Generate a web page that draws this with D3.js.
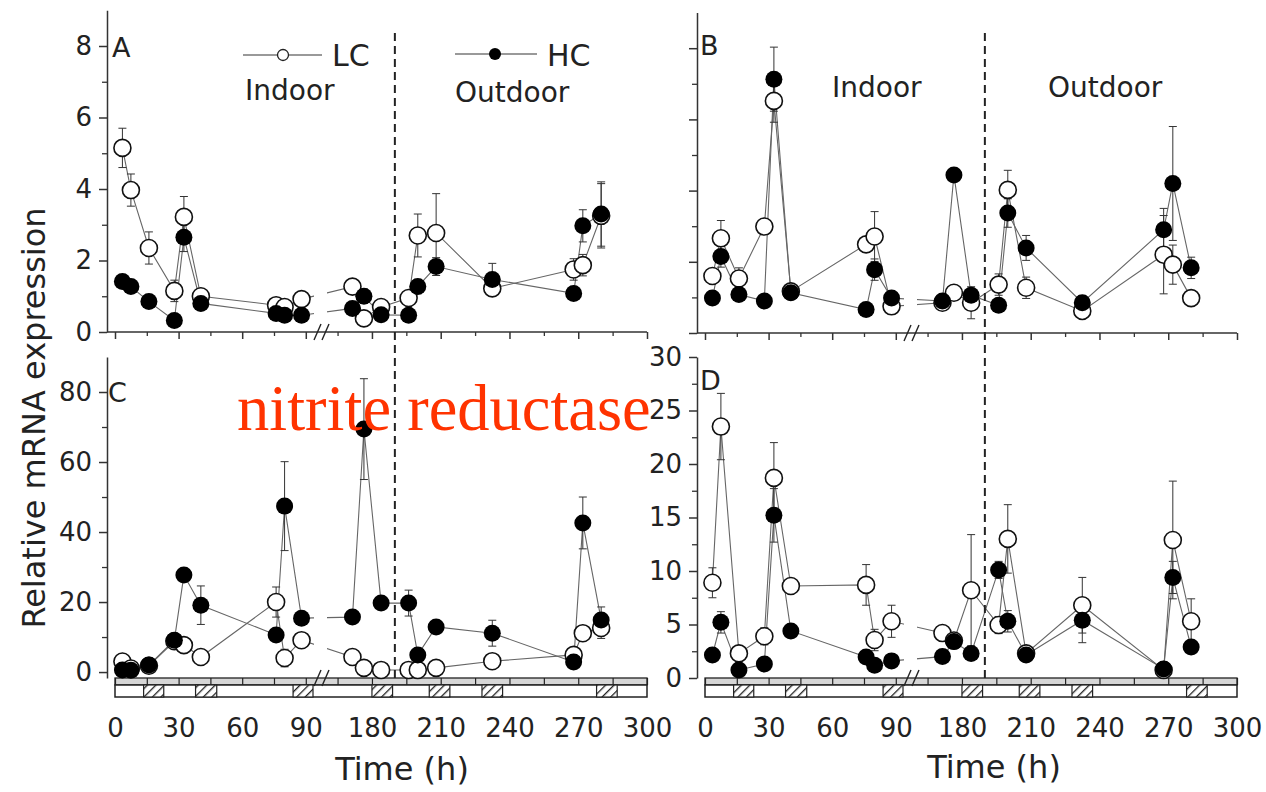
<!DOCTYPE html>
<html>
<head>
<meta charset="utf-8">
<script src="https://cdn.jsdelivr.net/npm/d3@7"></script>
<style>
  body { margin: 0; background: #fff; }
  svg { display: block; font-family: "DejaVu Sans", sans-serif; }
</style>
</head>
<body>
<svg id="chart" width="1266" height="792"></svg>
<script>
// sampling times (h), shared by all panels
const times = [3.5, 7.5, 16, 28, 32.5, 40.5, 76, 80, 88, 171.5, 176.5, 184, 196, 200, 208, 232.5, 268, 272, 280];

// panel A
const lcA = [5.15, 3.97, 2.35, 1.15, 3.22, 1.0, 0.75, 0.7, 0.92, 1.27, 0.38, 0.7, 0.95, 2.7, 2.77, 1.22, 1.75, 1.87, 3.25];
const lcAErr = [0.55, 0.45, 0.45, 0.3, 0.57, 0.1, 0.1, 0.1, 0.1, 0.1, 0.1, 0.1, 0.1, 0.6, 1.1, 0.2, 0.3, 0.3, 0.9];
const hcA = [1.41, 1.27, 0.85, 0.32, 2.65, 0.8, 0.52, 0.47, 0.47, 0.66, 1.0, 0.48, 0.47, 1.27, 1.83, 1.47, 1.08, 2.97, 3.3];
const hcAErr = [0.1, 0.1, 0.1, 0.05, 0.4, 0.1, 0.05, 0.05, 0.05, 0.1, 0.2, 0.1, 0.05, 0.2, 0.25, 0.45, 0.1, 0.45, 0.9];

// panel B
const lcB = [1.6, 2.66, 1.53, 2.99, 6.52, 1.17, 2.49, 2.71, 0.75, 0.85, 1.13, 0.85, 1.36, 4.02, 1.27, 0.62, 2.2, 1.92, 0.98];
const lcBErr = [0.2, 0.5, 0.3, 0.2, 0.6, 0.1, 0.2, 0.7, 0.1, 0.1, 0.1, 0.45, 0.3, 0.55, 0.3, 0.1, 1.1, 0.55, 0.2];
const hcB = [0.98, 2.15, 1.08, 0.9, 7.13, 1.13, 0.66, 1.78, 0.98, 0.9, 4.44, 1.06, 0.78, 3.37, 2.39, 0.85, 2.9, 4.2, 1.83];
const hcBErr = [0.1, 0.3, 0.1, 0.1, 0.9, 0.1, 0.1, 0.3, 0.1, 0.1, 0.1, 0.1, 0.1, 0.4, 0.35, 0.2, 0.6, 1.6, 0.3];

// panel C
const lcC = [3.0, 1.0, 1.8, 8.8, 7.7, 4.3, 20.0, 4.0, 9.1, 4.3, 1.2, 0.6, 0.6, 0.6, 1.2, 3.1, 4.9, 11.1, 12.6];
const lcCErr = [0.5, 0.3, 0.3, 1, 1.5, 0.5, 4.3, 2.5, 1, 2, 1, 1, 1, 1, 1, 1.5, 1.5, 2, 3];
const hcC = [0.6, 0.5, 2.0, 9.1, 27.7, 19.1, 10.6, 47.4, 15.4, 15.7, 69.4, 19.7, 19.7, 4.9, 12.9, 11.1, 2.9, 42.6, 14.9];
const hcCErr = [0.5, 0.5, 0.5, 1, 1, 5.5, 1, 12.7, 1, 1, 14.4, 1, 3.7, 1, 1, 3.7, 1, 7.4, 3.7];

// panel D
const lcD = [8.9, 23.5, 2.3, 3.9, 18.7, 8.6, 8.7, 3.55, 5.3, 4.2, 3.5, 8.2, 4.95, 13.0, 2.3, 6.8, 0.75, 12.9, 5.3];
const lcDErr = [1.4, 3.1, 0.5, 0.8, 3.3, 0.5, 1.9, 1.0, 1.5, 0.5, 0.5, 5.2, 0.8, 3.2, 0.5, 2.6, 0.3, 5.5, 2.1];
const hcD = [2.15, 5.2, 0.75, 1.3, 15.2, 4.4, 1.96, 1.2, 1.6, 2.0, 3.4, 2.3, 10.1, 5.3, 2.15, 5.4, 0.85, 9.4, 2.9];
const hcDErr = [0.3, 1.0, 0.2, 0.3, 2.5, 0.3, 0.3, 0.3, 0.3, 0.3, 0.3, 0.3, 0.8, 1.0, 0.5, 2.1, 0.3, 1.5, 0.5];

// axis ticks
const xTicks = [0, 30, 60, 90, 180, 210, 240, 270, 300];
const xMinor = [15, 45, 75, 165, 195, 225, 255, 285];
// dark periods (hatched cells in the light bar)
const darkPeriods = [[13.5, 23], [38, 48], [84, 93.4], [180, 189], [205, 214], [228, 237], [278, 287]];
const indoorEnd = 190; // indoor -> outdoor transfer
const breakLeft = 93.4;
const breakRight = 161.7;

const svg = d3.select('#chart');
const defs = svg.append('defs');

const hatch = defs.append('pattern')
  .attr('id', 'hatch')
  .attr('width', 6)
  .attr('height', 6)
  .attr('patternUnits', 'userSpaceOnUse')
  .attr('patternTransform', 'rotate(45)');
hatch.append('rect').attr('width', 6).attr('height', 6).attr('fill', '#fff');
hatch.append('line').attr('x1', 0).attr('y1', 0).attr('x2', 0).attr('y2', 6)
  .attr('stroke', '#222').attr('stroke-width', 2.6);

const panels = [
  { id: 'A', ax: 107, axisY: 332, yDomain: [0, 9], yRange: [332, 10.25], yTicks: [0, 2, 4, 6, 8], yMinor: [1, 3, 5, 7], labels: true, bars: false, lc: lcA, lcErr: lcAErr, hc: hcA, hcErr: hcAErr, letter: [112, 57] },
  { id: 'B', ax: 697, axisY: 333, yDomain: [0, 9], yRange: [333, 12.6], yTicks: [0, 2, 4, 6, 8], yMinor: [1, 3, 5, 7], labels: false, bars: false, lc: lcB, lcErr: lcBErr, hc: hcB, hcErr: hcBErr, letter: [700, 55] },
  { id: 'C', ax: 107, axisY: 678, yDomain: [-1.7, 90], yRange: [678, 357], yTicks: [0, 20, 40, 60, 80], yMinor: [10, 30, 50, 70], labels: true, bars: true, lc: lcC, lcErr: lcCErr, hc: hcC, hcErr: hcCErr, letter: [108, 402] },
  { id: 'D', ax: 697, axisY: 678, yDomain: [0, 30], yRange: [678, 357], yTicks: [0, 5, 10, 15, 20, 25, 30], yMinor: [2.5, 7.5, 12.5, 17.5, 22.5, 27.5], labels: true, bars: true, lc: lcD, lcErr: lcDErr, hc: hcD, hcErr: hcDErr, letter: [700, 390] },
];

const ink = '#222';

function errorBars(g, vals, errs, x, y, y0) {
  const data = d3.zip(times, vals, errs).filter((d) => d[2] > 0);
  const eb = g.append('g').attr('stroke', '#333').attr('stroke-width', 1);
  const items = eb.selectAll('g').data(data).join('g');
  items.append('line')
    .attr('x1', (d) => x(d[0])).attr('x2', (d) => x(d[0]))
    .attr('y1', (d) => y(d[1] + d[2]))
    .attr('y2', (d) => Math.min(y(Math.max(d[1] - d[2], y0)), y(y0)));
  items.append('line')
    .attr('x1', (d) => x(d[0]) - 4).attr('x2', (d) => x(d[0]) + 4)
    .attr('y1', (d) => y(d[1] + d[2])).attr('y2', (d) => y(d[1] + d[2]));
  items.append('line')
    .attr('x1', (d) => x(d[0]) - 4).attr('x2', (d) => x(d[0]) + 4)
    .attr('y1', (d) => y(Math.max(d[1] - d[2], y0))).attr('y2', (d) => y(Math.max(d[1] - d[2], y0)));
}

function drawPanel(p) {
  const g = svg.append('g');
  const x = d3.scaleLinear()
    .domain([0, breakLeft, breakRight, 300])
    .range([p.ax + 8, p.ax + 206, p.ax + 223, p.ax + 540]);
  const y = d3.scaleLinear().domain(p.yDomain).range(p.yRange);

  // y axis
  const ya = g.append('g')
    .attr('transform', `translate(${p.ax},0)`)
    .call(d3.axisLeft(y).tickValues(p.yTicks).tickSize(8).tickSizeOuter(0).tickPadding(7)
      .tickFormat(p.labels ? d3.format('d') : ''));
  ya.attr('font-family', null).attr('font-size', 26);
  ya.selectAll('text').attr('fill', ink);
  ya.selectAll('line, path').attr('stroke', '#333').attr('stroke-width', 1.5);
  const ym = g.append('g')
    .attr('transform', `translate(${p.ax},0)`)
    .call(d3.axisLeft(y).tickValues(p.yMinor).tickSize(5).tickFormat(''));
  ym.select('.domain').remove();
  ym.selectAll('line').attr('stroke', '#333').attr('stroke-width', 1.3);

  if (!p.bars) {
    g.append('line')
      .attr('x1', p.ax).attr('x2', x(300))
      .attr('y1', p.axisY).attr('y2', p.axisY)
      .attr('stroke', '#333').attr('stroke-width', 1.5);
    const xa = g.append('g')
      .attr('transform', `translate(0,${p.axisY})`)
      .call(d3.axisBottom(x).tickValues(xTicks).tickSize(7).tickFormat(''));
    xa.select('.domain').remove();
    xa.selectAll('line').attr('stroke', '#333').attr('stroke-width', 1.5);
    const xm = g.append('g')
      .attr('transform', `translate(0,${p.axisY})`)
      .call(d3.axisBottom(x).tickValues(xMinor).tickSize(4).tickFormat(''));
    xm.select('.domain').remove();
    xm.selectAll('line').attr('stroke', '#333').attr('stroke-width', 1.3);
  } else {
    const top = p.axisY;
    g.append('rect')
      .attr('x', x(0)).attr('y', top)
      .attr('width', x(300) - x(0)).attr('height', 7)
      .attr('fill', '#d6d6d6').attr('stroke', ink).attr('stroke-width', 1.3);
    g.append('rect')
      .attr('x', x(0)).attr('y', top + 7)
      .attr('width', x(300) - x(0)).attr('height', 12)
      .attr('fill', '#fff').attr('stroke', ink).attr('stroke-width', 1.5);
    g.append('g').selectAll('rect')
      .data(darkPeriods)
      .join('rect')
      .attr('x', (d) => x(d[0])).attr('y', top + 7)
      .attr('width', (d) => x(d[1]) - x(d[0])).attr('height', 12)
      .attr('fill', 'url(#hatch)').attr('stroke', ink).attr('stroke-width', 1.2);
    const xa = g.append('g')
      .attr('transform', `translate(0,${top})`)
      .call(d3.axisBottom(x).tickValues(xTicks.concat(xMinor)).tickSize(7).tickFormat(''));
    xa.select('.domain').remove();
    xa.selectAll('line').attr('stroke', ink).attr('stroke-width', 1.2);
    const xl = g.append('g')
      .attr('transform', `translate(0,${top + 19})`)
      .call(d3.axisBottom(x).tickValues(xTicks).tickSize(0).tickPadding(22).tickFormat(d3.format('d')));
    xl.select('.domain').remove();
    xl.attr('font-family', null).attr('font-size', 26);
    xl.selectAll('text').attr('fill', ink);
  }

  // axis break marks
  [0, 8].forEach((dx) => {
    const bx = x(breakLeft) + 1 + dx;
    g.append('line')
      .attr('x1', bx).attr('y1', p.axisY + 8)
      .attr('x2', bx + 7).attr('y2', p.axisY - 8)
      .attr('stroke', ink).attr('stroke-width', 1.4);
  });

  // series lines, with a gap at the axis break
  const clipId = 'clip' + p.id;
  const clip = defs.append('clipPath').attr('id', clipId);
  clip.append('rect').attr('x', 0).attr('y', 0).attr('width', x(breakLeft) + 1).attr('height', 792);
  clip.append('rect').attr('x', x(breakRight) - 3).attr('y', 0).attr('width', 1266).attr('height', 792);

  const line = d3.line().x((d) => x(d[0])).y((d) => y(d[1]));
  const lines = g.append('g').attr('clip-path', `url(#${clipId})`)
    .attr('fill', 'none').attr('stroke', '#666').attr('stroke-width', 1.1);
  lines.append('path').attr('d', line(d3.zip(times, p.lc)));
  lines.append('path').attr('d', line(d3.zip(times, p.hc)));

  const y0 = Math.max(p.yDomain[0], 0);
  errorBars(g, p.lc, p.lcErr, x, y, y0);
  errorBars(g, p.hc, p.hcErr, x, y, y0);

  g.append('g').selectAll('circle')
    .data(d3.zip(times, p.lc))
    .join('circle')
    .attr('cx', (d) => x(d[0])).attr('cy', (d) => y(d[1]))
    .attr('r', 8.5)
    .attr('fill', '#fff').attr('stroke', '#111').attr('stroke-width', 1.6);
  g.append('g').selectAll('circle')
    .data(d3.zip(times, p.hc))
    .join('circle')
    .attr('cx', (d) => x(d[0])).attr('cy', (d) => y(d[1]))
    .attr('r', 8.5)
    .attr('fill', '#000');

  g.append('text')
    .attr('x', p.letter[0]).attr('y', p.letter[1])
    .attr('font-size', 27).attr('fill', ink)
    .text(p.id);

  return x;
}

const scales = panels.map(drawPanel);

// indoor / outdoor divider
[scales[0], scales[1]].forEach((x) => {
  svg.append('line')
    .attr('x1', x(indoorEnd)).attr('x2', x(indoorEnd))
    .attr('y1', 33).attr('y2', 678)
    .attr('stroke', ink).attr('stroke-width', 2)
    .attr('stroke-dasharray', '8,5');
});

// Indoor / Outdoor labels
const periodLabels = [
  ['Indoor', 245, 100], ['Outdoor', 455, 102],
  ['Indoor', 832, 97], ['Outdoor', 1048, 97],
];
svg.append('g').selectAll('text')
  .data(periodLabels)
  .join('text')
  .attr('x', (d) => d[1]).attr('y', (d) => d[2])
  .attr('font-size', 28).attr('fill', ink)
  .text((d) => d[0]);

// legend (panel A)
const legend = svg.append('g');
legend.append('line').attr('x1', 243).attr('x2', 322).attr('y1', 55).attr('y2', 55)
  .attr('stroke', '#777').attr('stroke-width', 1.3);
legend.append('circle').attr('cx', 283).attr('cy', 55).attr('r', 5.5)
  .attr('fill', '#fff').attr('stroke', '#222').attr('stroke-width', 1.3);
legend.append('text').attr('x', 332).attr('y', 66).attr('font-size', 30).attr('fill', ink).text('LC');
legend.append('line').attr('x1', 455).attr('x2', 537).attr('y1', 54).attr('y2', 54)
  .attr('stroke', '#777').attr('stroke-width', 1.3);
legend.append('circle').attr('cx', 495).attr('cy', 54).attr('r', 6).attr('fill', '#000');
legend.append('text').attr('x', 547).attr('y', 66).attr('font-size', 30).attr('fill', ink).text('HC');

// axis titles
svg.append('text')
  .attr('transform', 'translate(45,418) rotate(-90)')
  .attr('text-anchor', 'middle')
  .attr('font-size', 32).attr('fill', ink)
  .text('Relative mRNA expression');
svg.append('text')
  .attr('x', 402).attr('y', 780)
  .attr('text-anchor', 'middle')
  .attr('font-size', 32).attr('fill', ink)
  .text('Time (h)');
svg.append('text')
  .attr('x', 994).attr('y', 778)
  .attr('text-anchor', 'middle')
  .attr('font-size', 32).attr('fill', ink)
  .text('Time (h)');

// overlay caption
svg.append('text')
  .attr('x', 237).attr('y', 430)
  .attr('font-family', '"Liberation Serif", "Times New Roman", serif')
  .attr('font-size', 64.5)
  .attr('fill', '#ff3300')
  .text('nitrite reductase');
</script>
</body>
</html>
